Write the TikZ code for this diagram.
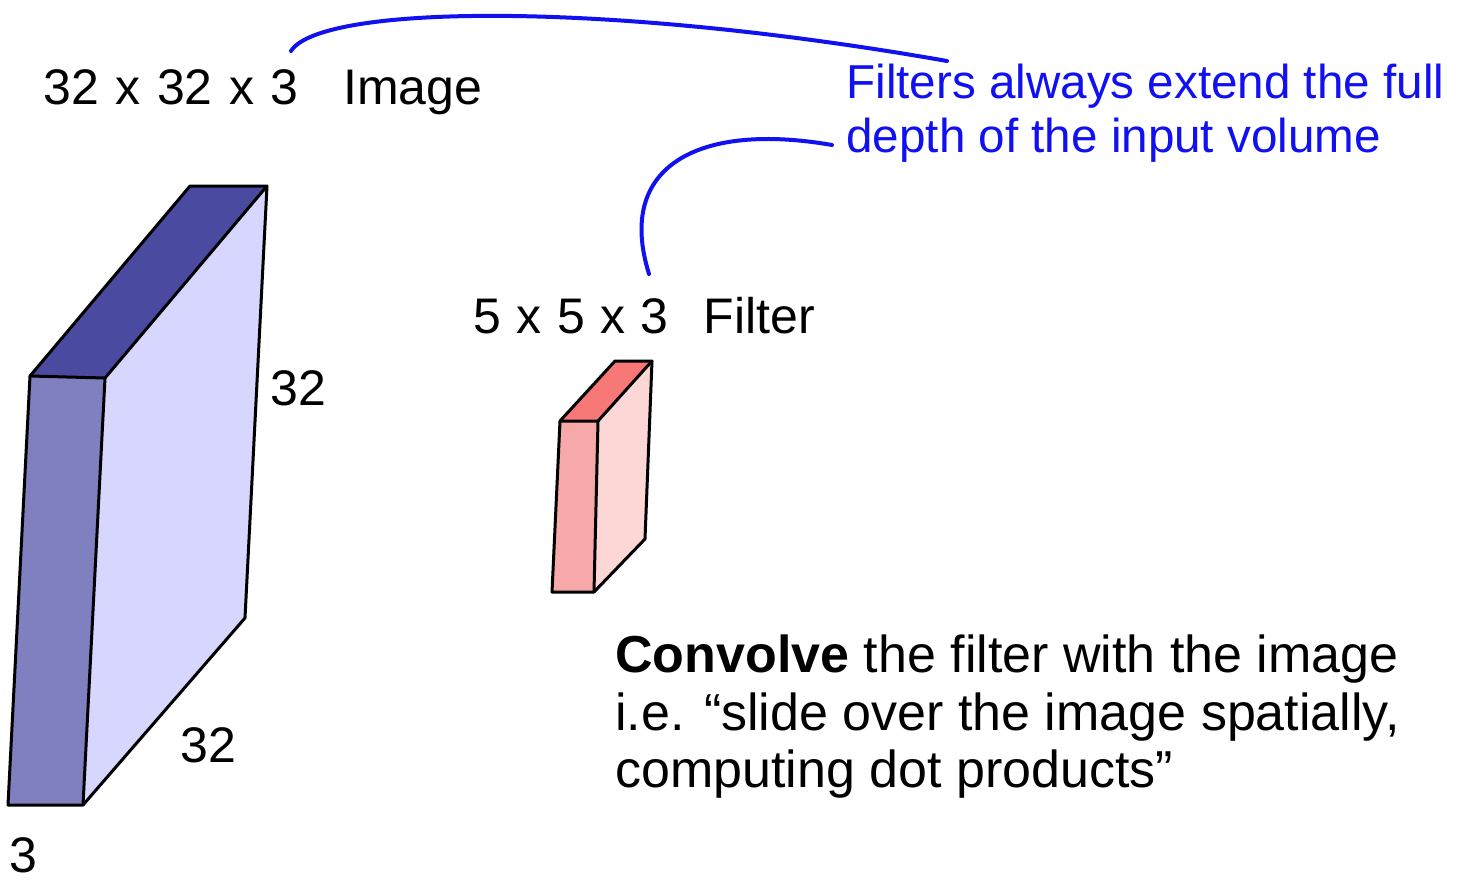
\documentclass[tikz,border=0pt]{standalone}
\usepackage{fontspec}
\setmainfont{Liberation Sans}
\definecolor{imgtop}{HTML}{4A4AA0}
\definecolor{imgside}{HTML}{8080C0}
\definecolor{imgface}{HTML}{D6D6FF}
\definecolor{filtop}{HTML}{F87878}
\definecolor{filside}{HTML}{F7A8A8}
\definecolor{filface}{HTML}{FDD6D6}
\definecolor{noteblue}{HTML}{1010F0}
\begin{document}
\begin{tikzpicture}[x=0.5pt,y=-0.5pt,
  face/.style={draw=black,line width=1.5pt,line join=round},
  lbl/.style={inner sep=0pt,anchor=base west,font=\fontsize{25}{29}\selectfont},
  body/.style={inner sep=0pt,anchor=base west,font=\fontsize{26}{30}\selectfont},
  note/.style={inner sep=0pt,anchor=base west,text=noteblue,font=\fontsize{23.8}{27}\selectfont},
  link/.style={draw=noteblue,line width=2pt,line cap=round}]
\useasboundingbox (0,0) rectangle (1466,879);
% big image volume
\coordinate (btl) at (190,186);
\coordinate (btr) at (267,186);
\coordinate (ftl) at (30,376);
\coordinate (ftr) at (105,378);
\coordinate (bbr) at (245,618);
\coordinate (fbr) at (83,805);
\coordinate (fbl) at (8,805);
\fill[imgtop] (btl) -- (btr) -- (ftr) -- (ftl) -- cycle;
\fill[imgside] (ftl) -- (ftr) -- (fbr) -- (fbl) -- cycle;
\fill[imgface] (ftr) -- (btr) -- (bbr) -- (fbr) -- cycle;
\draw[face] (ftl) -- (btl) -- (btr) -- (bbr) -- (fbr) -- (fbl) -- cycle;
\draw[face] (ftl) -- (ftr) -- (btr);
\draw[face] (ftr) -- (fbr);
% filter volume
\coordinate (gbtl) at (615,361);
\coordinate (gbtr) at (652,361);
\coordinate (gftl) at (560,421);
\coordinate (gftr) at (598,421);
\coordinate (gbbr) at (645,539);
\coordinate (gfbr) at (594,592);
\coordinate (gfbl) at (552,592);
\fill[filtop] (gbtl) -- (gbtr) -- (gftr) -- (gftl) -- cycle;
\fill[filside] (gftl) -- (gftr) -- (gfbr) -- (gfbl) -- cycle;
\fill[filface] (gftr) -- (gbtr) -- (gbbr) -- (gfbr) -- cycle;
\draw[face] (gftl) -- (gbtl) -- (gbtr) -- (gbbr) -- (gfbr) -- (gfbl) -- cycle;
\draw[face] (gftl) -- (gftr) -- (gbtr);
\draw[face] (gftr) -- (gfbr);
% labels
\node[lbl] (imglbl) at (43,104) {32\hspace{0.33em}x\hspace{0.33em}32\hspace{0.33em}x\hspace{0.33em}3\hspace{0.9em}Image};
\node[lbl] (fillbl) at (473,333) {5\hspace{0.31em}x\hspace{0.31em}5\hspace{0.31em}x\hspace{0.31em}3\hspace{0.7em}Filter};
\node[lbl] (h32) at (270,405) {32};
\node[lbl] (w32) at (180,762) {32};
\node[lbl] (d3) at (9,872) {3};
\node[note] (note1) at (846,98) {Filters always extend the full};
\node[note] (note2) at (846,152) {depth of the input volume};
\node[body] (conv) at (615,672) {\textbf{Convolve} the filter with the image};
\node[body] (conv2) at (615,730) {i.e. “slide over the image spatially,};
\node[body] (conv3) at (615,787) {computing dot products”};
% connectors
\coordinate (c1s) at (291,51);
\coordinate (c1e) at (947,61);
\coordinate (c2s) at (832,145);
\coordinate (c2e) at (649,274);
\draw[link] (c1s) .. controls (320,5) and (600,0) .. (c1e);
\draw[link] (c2s) .. controls (700,122) and (615,165) .. (c2e);
\end{tikzpicture}
\end{document}
